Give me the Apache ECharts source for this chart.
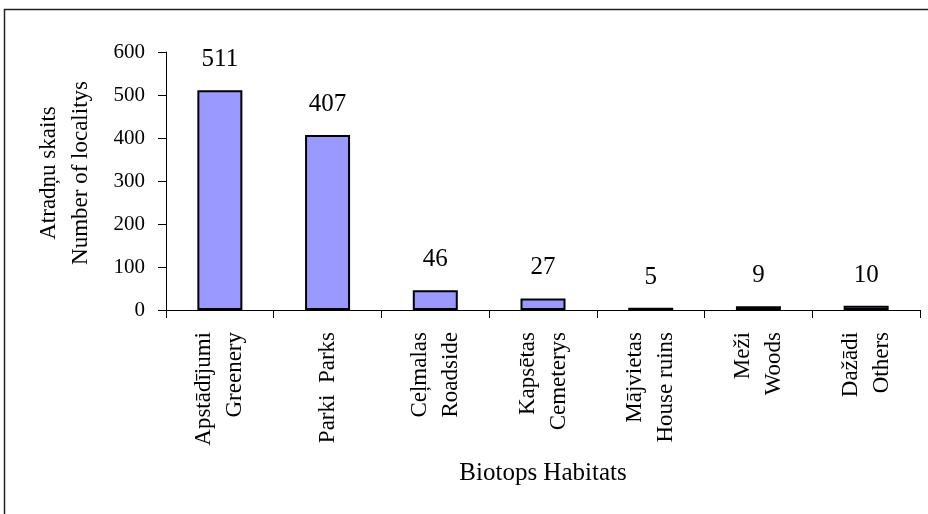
<!DOCTYPE html>
<html>
<head>
<meta charset="utf-8">
<script src="https://cdn.jsdelivr.net/npm/echarts@6/dist/echarts.min.js"></script>
<style>
  html, body { margin: 0; padding: 0; background: #fff; }
  #main { width: 928px; height: 514px; }
</style>
</head>
<body>
<div id="main"></div>
<script>
var categories = ['Apstādījumi\nGreenery', 'Parki  Parks', 'Ceļmalas\nRoadside', 'Kapsētas\nCemeterys', 'Mājvietas\nHouse ruins', 'Meži\nWoods', 'Dažādi\nOthers'];
var counts = [511, 407, 46, 27, 5, 9, 10];
var yTicks = [0, 600, 100]; // min, max, step

var serif = '"Liberation Serif", "Times New Roman", serif';

var chart = echarts.init(document.getElementById('main'));

var option = {
  backgroundColor: '#fff',
  animation: false,
  graphic: [{
    type: 'rect',
    shape: { x: 4.5, y: 9.5, width: 940, height: 520 },
    style: { fill: 'none', stroke: '#222', lineWidth: 1.5 },
    silent: true
  }],
  grid: { left: 166, top: 52, right: 8, bottom: 204, outerBoundsMode: 'none', containLabel: false },
  xAxis: {
    type: 'category',
    data: categories,
    name: 'Biotops Habitats',
    nameLocation: 'middle',
    nameGap: 151,
    nameTextStyle: { fontFamily: serif, fontSize: 25, color: '#000' },
    axisLine: { lineStyle: { color: '#000', width: 1 } },
    axisTick: { show: true, length: 8, alignWithLabel: false, lineStyle: { color: '#000' } },
    axisLabel: {
      rotate: 90,
      margin: 22,
      interval: 0,
      fontFamily: serif,
      fontSize: 23,
      lineHeight: 31,
      color: '#000'
    }
  },
  yAxis: {
    type: 'value',
    min: yTicks[0],
    max: yTicks[1],
    interval: yTicks[2],
    name: 'Atradņu skaits\nNumber of localitys',
    nameLocation: 'middle',
    nameRotate: 90,
    nameGap: 69,
    nameTextStyle: { fontFamily: serif, fontSize: 23, lineHeight: 32, color: '#000', padding: [0, 0, 0, 16] },
    axisLine: { show: true, lineStyle: { color: '#000', width: 1 } },
    axisTick: { show: true, length: 8, lineStyle: { color: '#000' } },
    axisLabel: { margin: 21, fontFamily: serif, fontSize: 21, color: '#000' },
    splitLine: { show: false }
  },
  series: [{
    type: 'bar',
    data: counts,
    barWidth: 45,
    itemStyle: { color: '#9999ff', borderColor: '#000', borderWidth: 2 },
    label: {
      show: true,
      position: 'top',
      distance: 18,
      fontFamily: serif,
      fontSize: 25,
      color: '#000'
    }
  }]
};

chart.setOption(option);
</script>
</body>
</html>
